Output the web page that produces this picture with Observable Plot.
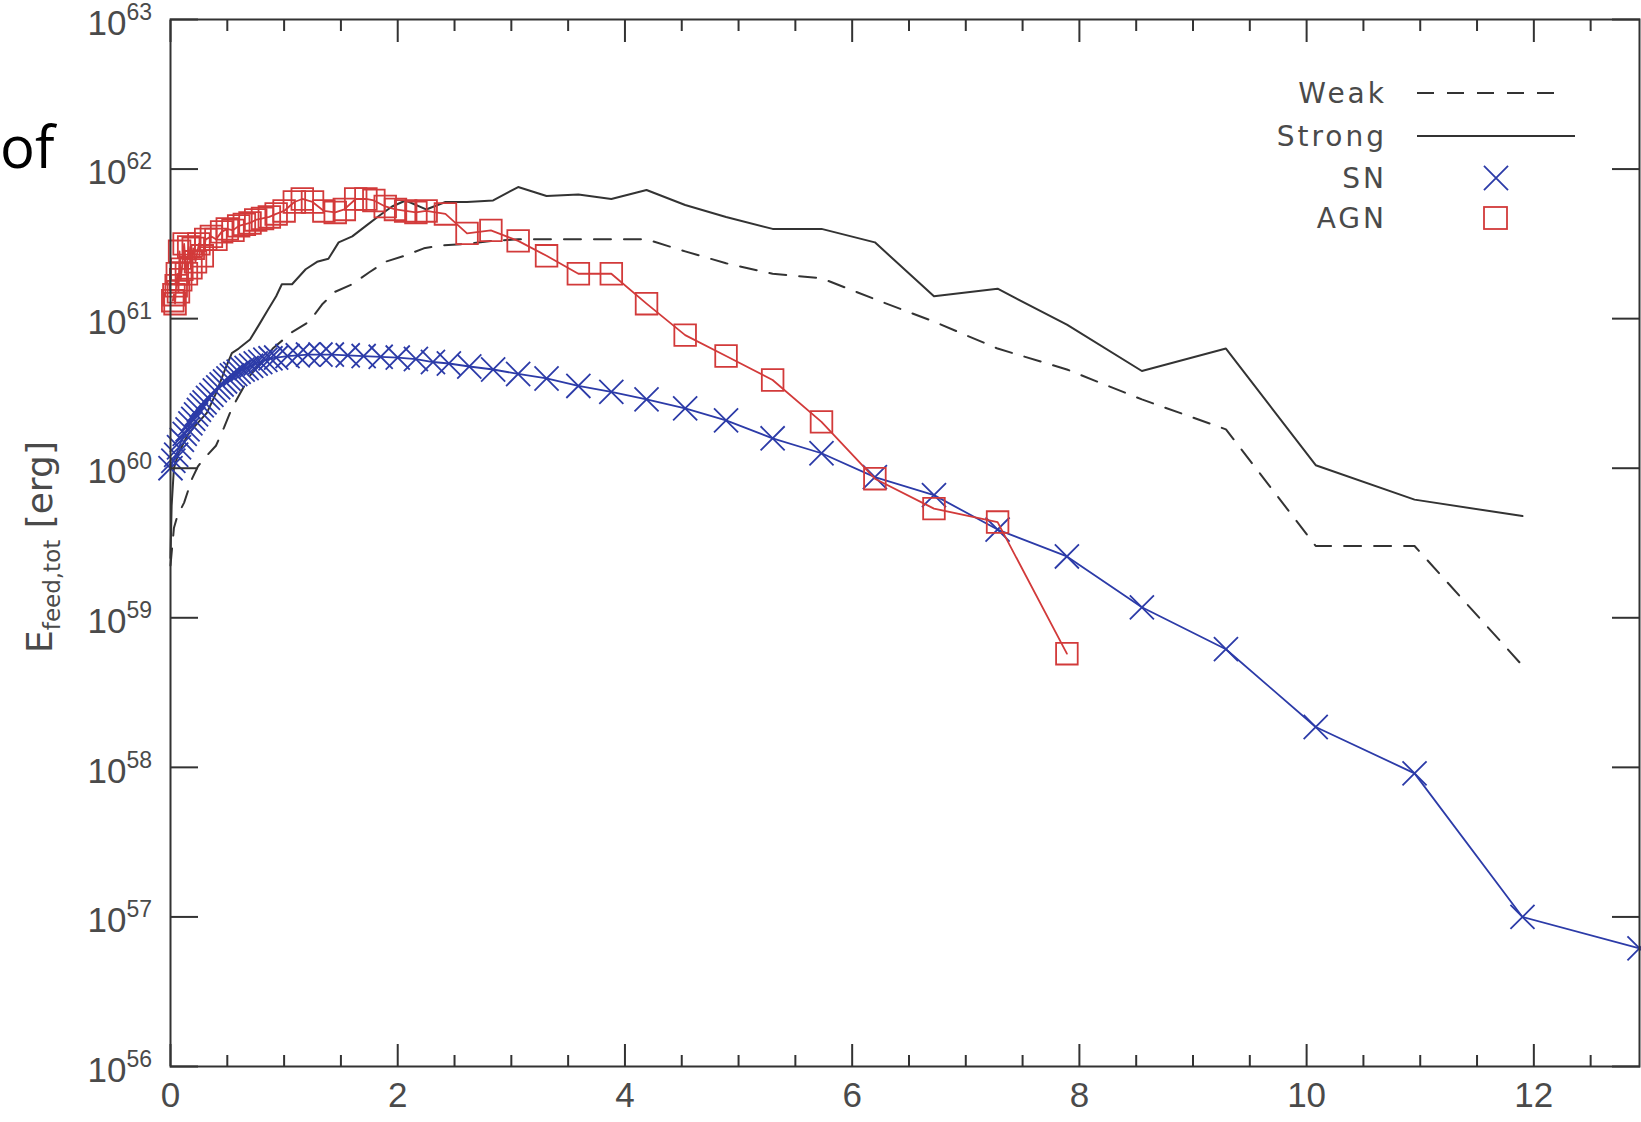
<!DOCTYPE html>
<html><head><meta charset="utf-8">
<script src="https://cdn.jsdelivr.net/npm/d3@7"></script>
<script src="https://cdn.jsdelivr.net/npm/@observablehq/plot@0.6"></script>
<style>
html,body{margin:0;padding:0;background:#fff;overflow:hidden}
#wrap{position:relative;width:1641px;height:1122px}
#wrap > svg{position:absolute;left:0;top:0}
</style></head><body><div id="wrap"></div>
<script>
// ---- data (x = time, values given as log10 of E_feed,tot in erg) ----
const snTime = [0.00,0.025,0.05,0.075,0.10,0.125,0.15,0.175,0.20,0.225,0.25,0.275,0.30,0.33,0.36,0.39,0.42,0.45,0.48,0.51,0.54,0.57,0.60,0.635,0.67,0.71,0.75,0.79,0.835,0.88,0.93,1.03,1.12,1.21,1.32,1.42,1.56,1.70,1.85,2.00,2.16,2.31,2.45,2.63,2.84,3.06,3.31,3.59,3.88,4.19,4.53,4.89,5.30,5.73,6.20,6.72,7.28,7.89,8.55,9.29,10.08,10.95,11.90,12.93];
const snLogE = [60.00,60.05,60.09,60.14,60.19,60.23,60.26,60.30,60.33,60.36,60.39,60.42,60.44,60.47,60.49,60.52,60.54,60.56,60.58,60.60,60.62,60.63,60.645,60.66,60.67,60.685,60.70,60.71,60.725,60.735,60.74,60.75,60.755,60.76,60.76,60.76,60.755,60.75,60.745,60.74,60.73,60.71,60.70,60.68,60.66,60.63,60.60,60.55,60.51,60.46,60.40,60.32,60.20,60.10,59.94,59.82,59.59,59.41,59.07,58.79,58.27,57.96,57.00,56.79];

const agnTime = [0.02,0.03,0.04,0.05,0.06,0.07,0.08,0.09,0.10,0.12,0.14,0.16,0.18,0.20,0.22,0.25,0.28,0.31,0.36,0.40,0.45,0.50,0.55,0.60,0.65,0.70,0.75,0.81,0.87,0.93,1.00,1.09,1.16,1.25,1.35,1.45,1.53,1.63,1.72,1.79,1.89,1.98,2.07,2.16,2.25,2.42,2.61,2.82,3.06,3.31,3.59,3.88,4.19,4.53,4.89,5.30,5.73,6.20,6.72,7.28,7.89];
const agnLogE = [61.12,61.16,61.10,61.22,61.30,61.18,61.45,61.26,61.33,61.50,61.30,61.48,61.34,61.47,61.38,61.50,61.42,61.53,61.55,61.53,61.58,61.60,61.59,61.62,61.63,61.64,61.66,61.67,61.68,61.70,61.72,61.78,61.80,61.78,61.72,61.71,61.73,61.80,61.80,61.79,61.75,61.73,61.72,61.71,61.72,61.70,61.57,61.59,61.52,61.42,61.30,61.30,61.10,60.89,60.75,60.59,60.31,59.93,59.73,59.64,58.76];

const strongTime = [0.00,0.01,0.03,0.07,0.15,0.20,0.32,0.40,0.48,0.54,0.60,0.70,0.78,0.85,0.93,0.98,1.07,1.19,1.29,1.39,1.48,1.60,1.72,1.84,1.95,2.07,2.25,2.42,2.61,2.84,3.06,3.31,3.59,3.88,4.19,4.53,4.89,5.30,5.73,6.20,6.72,7.28,7.89,8.55,9.29,10.08,10.95,11.90];
const strongLogE = [59.40,59.75,60.00,60.10,60.22,60.27,60.37,60.50,60.66,60.77,60.80,60.86,60.96,61.05,61.15,61.23,61.23,61.33,61.38,61.40,61.51,61.55,61.62,61.69,61.75,61.79,61.73,61.78,61.78,61.79,61.88,61.82,61.83,61.80,61.86,61.76,61.68,61.60,61.60,61.51,61.15,61.20,60.96,60.65,60.80,60.02,59.79,59.68];

const weakTime = [0.00,0.03,0.06,0.12,0.19,0.24,0.29,0.40,0.47,0.54,0.70,0.90,1.07,1.22,1.34,1.45,1.60,1.75,1.89,2.06,2.23,2.39,2.61,2.84,3.06,3.31,3.59,3.88,4.19,4.53,4.89,5.30,5.73,6.20,6.72,7.28,7.89,8.55,9.29,10.08,10.95,11.90];
const weakLogE = [59.35,59.60,59.68,59.77,59.93,60.01,60.06,60.15,60.27,60.40,60.62,60.80,60.91,60.98,61.10,61.18,61.23,61.31,61.38,61.42,61.47,61.49,61.50,61.52,61.53,61.53,61.53,61.53,61.53,61.45,61.37,61.30,61.27,61.13,60.98,60.80,60.66,60.46,60.26,59.48,59.48,58.68];

const xMajorTicks = [0,2,4,6,8,10,12];
const xMinorTicks = [0.5,1,1.5,2.5,3,3.5,4.5,5,5.5,6.5,7,7.5,8.5,9,9.5,10.5,11,11.5,12.5];
const yDecades = [56,57,58,59,60,61,62,63];
const legendLabels = ["Weak","Strong","SN","AGN"];

// ---- tables ----
const rows = (ts, ls) => ts.map((t, i) => ({t, E: Math.pow(10, ls[i])}));
const sn = rows(snTime, snLogE);
const agn = rows(agnTime, agnLogE);
const strong = rows(strongTime, strongLogE);
const weak = rows(weakTime, weakLogE);

const INK = "#333";
const BLUE = "#2c3ba8";
const RED = "#d23a3a";
const LABEL = "#4a4a4a";
const TICKFONT = "'Liberation Sans', Arial, sans-serif";
const HFONT = "'DejaVu Sans', sans-serif";

const plot = Plot.plot({
  width: 1641, height: 1122,
  marginLeft: 170, marginRight: 2, marginTop: 19, marginBottom: 56,
  x: {domain: [0, 12.93], axis: null},
  y: {type: "log", domain: [1e56, 1e63], axis: null},
  style: {background: "#fff", overflow: "hidden"},
  marks: [
    Plot.line(strong, {x: "t", y: "E", stroke: INK, strokeWidth: 2}),
    Plot.line(weak, {x: "t", y: "E", stroke: INK, strokeWidth: 2, strokeDasharray: "17,13"}),
    Plot.line(sn, {x: "t", y: "E", stroke: BLUE, strokeWidth: 1.8}),
    Plot.dot(sn, {x: "t", y: "E", symbol: "times", r: 11, stroke: BLUE, strokeWidth: 1.8}),
    Plot.line(agn, {x: "t", y: "E", stroke: RED, strokeWidth: 1.8}),
    Plot.dot(agn, {x: "t", y: "E", symbol: "square", r: 12.2, stroke: RED, fill: "none", strokeWidth: 1.8}),
    Plot.frame({stroke: INK, strokeWidth: 2}),
    Plot.axisX(xMajorTicks, {anchor: "bottom", tickSize: -22, tickFormat: () => "", label: null, stroke: INK, strokeWidth: 2}),
    Plot.axisX(xMinorTicks, {anchor: "bottom", tickSize: -11, tickFormat: () => "", label: null, stroke: INK, strokeWidth: 2}),
    Plot.axisX(xMajorTicks, {anchor: "top", tickSize: -22, tickFormat: () => "", label: null, stroke: INK, strokeWidth: 2}),
    Plot.axisX(xMinorTicks, {anchor: "top", tickSize: -11, tickFormat: () => "", label: null, stroke: INK, strokeWidth: 2}),
    Plot.axisY(yDecades.map(d => Math.pow(10, d)), {anchor: "left", tickSize: -28, tickFormat: () => "", label: null, stroke: INK, strokeWidth: 2}),
    Plot.axisY(yDecades.map(d => Math.pow(10, d)), {anchor: "right", tickSize: -28, tickFormat: () => "", label: null, stroke: INK, strokeWidth: 2}),
    Plot.text(xMajorTicks, {x: d => d, text: d => String(d), frameAnchor: "bottom", dy: 40, fontSize: 35, fill: LABEL, fontFamily: TICKFONT}),
    Plot.text(yDecades, {y: d => Math.pow(10, d), text: () => "10", frameAnchor: "left", textAnchor: "end", dx: -44, dy: 4, fontSize: 35, fill: LABEL, fontFamily: TICKFONT}),
    Plot.text(yDecades, {y: d => Math.pow(10, d), text: d => String(d), frameAnchor: "left", textAnchor: "start", dx: -44, dy: -7, fontSize: 23, fill: LABEL, fontFamily: TICKFONT})
  ]
});
document.getElementById("wrap").appendChild(plot);

// ---- overlay: legend, y-axis title, slide fragment ----
const ns = "http://www.w3.org/2000/svg";
const ov = d3.select("#wrap").append("svg")
  .attr("xmlns", ns).attr("width", 1641).attr("height", 1122)
  .style("pointer-events", "none");

// slide text fragment at left
ov.append("text").attr("x", 0).attr("y", 168)
  .attr("font-family", "'Open Sans', sans-serif").attr("font-size", 58).attr("fill", "#000")
  .text("of");

// y axis title
const yt = ov.append("text")
  .attr("transform", "translate(52,547) rotate(-90)")
  .attr("text-anchor", "middle")
  .attr("font-family", HFONT).attr("fill", LABEL).attr("font-size", 36);
yt.append("tspan").text("E");
yt.append("tspan").attr("font-size", 23).attr("dy", 8).text("feed,tot");
yt.append("tspan").attr("dy", -8).text(" [erg]");

// legend
const legY = [93, 136, 178, 218];
const lg = ov.append("g").attr("font-family", HFONT).attr("font-size", 28).attr("fill", LABEL);
legendLabels.forEach((lab, i) => {
  lg.append("text").attr("x", 1387).attr("y", legY[i]).attr("dy", "0.36em")
    .attr("text-anchor", "end").attr("letter-spacing", 3).text(lab);
});
lg.append("line").attr("x1", 1417).attr("x2", 1556).attr("y1", legY[0]).attr("y2", legY[0])
  .attr("stroke", INK).attr("stroke-width", 2).attr("stroke-dasharray", "17,13");
lg.append("line").attr("x1", 1417).attr("x2", 1575).attr("y1", legY[1]).attr("y2", legY[1])
  .attr("stroke", INK).attr("stroke-width", 2);
lg.append("path").attr("d", d3.symbol(d3.symbolTimes, 380)())
  .attr("transform", `translate(1496,${legY[2]})`).attr("fill", "none").attr("stroke", BLUE).attr("stroke-width", 1.8);
lg.append("rect").attr("x", 1484).attr("y", legY[3] - 11).attr("width", 23).attr("height", 22)
  .attr("fill", "none").attr("stroke", RED).attr("stroke-width", 1.8);
</script>
</body></html>
